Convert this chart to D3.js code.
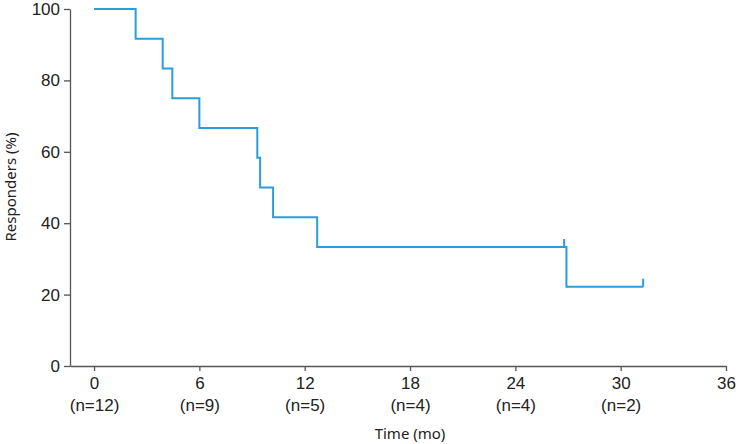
<!DOCTYPE html>
<html>
<head>
<meta charset="utf-8">
<script src="https://cdn.jsdelivr.net/npm/d3@7"></script>
<style>
  body { margin: 0; background: #fff; }
  .tick text { font-family: "Liberation Sans", Arial, sans-serif; font-size: 17px; fill: #222; }
  .title { font-family: "Noto Sans", sans-serif; font-size: 15px; fill: #222; }
</style>
</head>
<body>
<div id="chart"></div>
<script>
// Data
const eventTimes = [0, 2.37, 3.91, 4.46, 6.0, 9.30, 9.46, 10.2, 12.71, 26.91, 31.28];
const survival = [100, 91.67, 83.33, 75, 66.67, 58.33, 50, 41.67, 33.33, 22.22, 22.22];
const censorTimes = [26.78, 31.28];
const censorValues = [33.33, 22.22];
const xTicks = [0, 6, 12, 18, 24, 30, 36];
const atRisk = ["(n=12)", "(n=9)", "(n=5)", "(n=4)", "(n=4)", "(n=2)", ""];
const yTicks = [0, 20, 40, 60, 80, 100];

const W = 736, H = 444;

const svg = d3.select("#chart")
  .append("svg")
  .attr("width", W)
  .attr("height", H);

// scales (x domain starts a bit below 0 so the axis meets the y axis)
const x = d3.scaleLinear().domain([-1.37, 36]).range([70, 726]);
const y = d3.scaleLinear().domain([0, 100]).range([366, 9]);

// x axis
const gx = svg.append("g")
  .attr("transform", "translate(0," + 366 + ")")
  .call(d3.axisBottom(x).tickValues(xTicks).tickSize(5).tickSizeOuter(0).tickPadding(6));
gx.selectAll(".tick").each(function(d, i) {
  d3.select(this).append("text")
    .attr("y", 33)
    .attr("dy", "0.71em")
    .attr("fill", "#222")
    .text(atRisk[i]);
});

// y axis
const gy = svg.append("g")
  .attr("transform", "translate(70,0)")
  .call(d3.axisLeft(y).tickValues(yTicks).tickSize(6).tickSizeOuter(0).tickPadding(4));

svg.selectAll(".domain, .tick line").attr("stroke", "#555").attr("stroke-width", 1.3);

// axis titles
svg.append("text")
  .attr("class", "title")
  .attr("x", 410)
  .attr("y", 439)
  .attr("text-anchor", "middle")
  .text("Time (mo)");

svg.append("text")
  .attr("class", "title")
  .attr("transform", "translate(16,187) rotate(-90)")
  .attr("text-anchor", "middle")
  .text("Responders (%)");

// KM curve
const pts = eventTimes.map((t, i) => [t, survival[i]]);
const line = d3.line()
  .x(d => x(d[0]))
  .y(d => y(d[1]))
  .curve(d3.curveStepAfter);

svg.append("path")
  .datum(pts)
  .attr("fill", "none")
  .attr("stroke", "#2a9edb")
  .attr("stroke-width", 2)
  .attr("d", line);

// censor marks
svg.selectAll(".censor")
  .data(censorTimes)
  .enter().append("line")
  .attr("class", "censor")
  .attr("x1", d => x(d))
  .attr("x2", d => x(d))
  .attr("y1", (d, i) => y(censorValues[i]))
  .attr("y2", (d, i) => y(censorValues[i]) - 8)
  .attr("stroke", "#2a9edb")
  .attr("stroke-width", 2);
</script>
</body>
</html>
